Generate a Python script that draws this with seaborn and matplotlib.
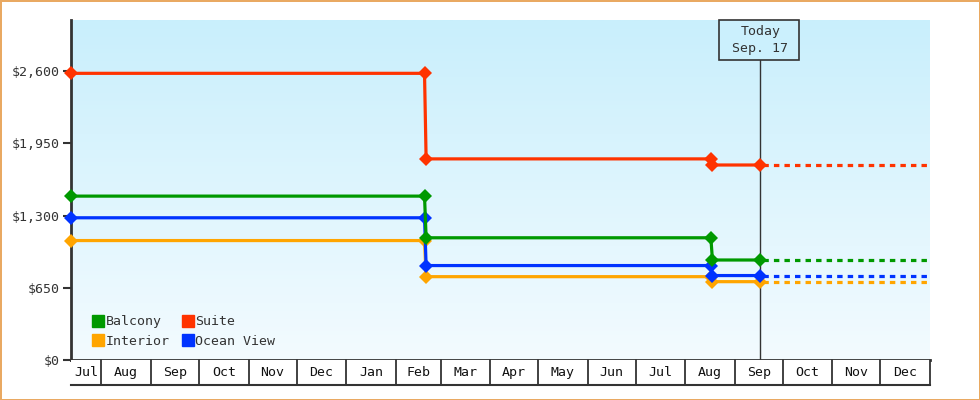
import numpy as np
import pandas as pd
import matplotlib.pyplot as plt
import matplotlib.dates as mdates
import matplotlib.transforms as mtransforms
from matplotlib.colors import LinearSegmentedColormap
from matplotlib.lines import Line2D
from matplotlib.patches import Rectangle
from matplotlib.ticker import FuncFormatter
import seaborn as sns

sns.set_theme(style='white')
plt.rcParams['font.family'] = ['DejaVu Sans Mono', 'DejaVu Sans']

# price history (date the fare was seen, fare in $)
price_dates = ['2024-07-13', '2025-02-19', '2025-02-20', '2025-08-17', '2025-08-18', '2025-09-17']
balcony = [1475, 1475, 1100, 1100, 900, 900]
suite = [2580, 2580, 1810, 1810, 1755, 1755]
interior = [1075, 1075, 750, 750, 705, 705]
ocean_view = [1280, 1280, 850, 850, 760, 760]
forecast_end = '2025-12-31'
today_label = 'Today\nSep. 17'

month_labels = ['Jul', 'Aug', 'Sep', 'Oct', 'Nov', 'Dec', 'Jan', 'Feb', 'Mar',
                'Apr', 'May', 'Jun', 'Jul', 'Aug', 'Sep', 'Oct', 'Nov', 'Dec']
y_ticks = [0, 650, 1300, 1950, 2600]

series = {'Balcony': (balcony, '#009900'),
          'Suite': (suite, '#ff3300'),
          'Interior': (interior, '#ffa500'),
          'Ocean View': (ocean_view, '#0033ff')}

dates = pd.to_datetime(price_dates)
today = dates[-1]
x_start = dates[0]
x_end = pd.Timestamp('2026-01-01')

fig = plt.figure(figsize=(9.8, 4), dpi=100)
fig.patch.set_facecolor('white')
fig.patch.set_edgecolor('#e9a962')
fig.patch.set_linewidth(2)

ax = fig.add_axes([71 / 980, 40 / 400, 859 / 980, 340 / 400])

# draw order: bottom to top
for name in ['Interior', 'Ocean View', 'Balcony', 'Suite']:
    vals, col = series[name]
    df = pd.DataFrame({'date': dates, 'price': vals})
    sns.lineplot(data=df, x='date', y='price', color=col, lw=2.3, marker='D',
                 markersize=7, markeredgewidth=0, estimator=None, sort=False,
                 ax=ax, zorder=5)
    ax.lines[-1].set_clip_on(False)
    fc = pd.DataFrame({'date': pd.to_datetime([price_dates[-1], forecast_end]),
                       'price': [vals[-1], vals[-1]]})
    sns.lineplot(data=fc, x='date', y='price', color=col, lw=2.3,
                 dashes=False, estimator=None, ax=ax, zorder=3)
    ax.lines[-1].set_linestyle((2.4, (1.7, 1.6)))

# gradient background
cmap = LinearSegmentedColormap.from_list('bg', ['#f3fbff', '#c9effc'])
grad = np.linspace(0, 1, 256).reshape(-1, 1)
ax.imshow(grad, extent=[0, 1, 0, 1], transform=ax.transAxes, cmap=cmap,
          origin='lower', aspect='auto', zorder=0)

ax.set_xlim(x_start, x_end)
ax.set_ylim(0, 3060)
ax.set_xlabel('')
ax.set_ylabel('')
ax.set_yticks(y_ticks)
ax.yaxis.set_major_formatter(FuncFormatter(lambda v, _: f'${v:,.0f}'))
ax.tick_params(axis='y', left=True, length=6, width=1.5, color='#333333',
               labelsize=9.5, labelcolor='#333333', pad=2)
ax.tick_params(axis='x', bottom=False, labelbottom=False)
for s in ['top', 'right']:
    ax.spines[s].set_visible(False)
for s in ['left', 'bottom']:
    ax.spines[s].set_color('#333333')
    ax.spines[s].set_linewidth(2)
    ax.spines[s].set_zorder(4)

# today marker
ax.axvline(today, ymin=0, ymax=0.882, color='#333333', lw=1, zorder=2)
ax.add_patch(Rectangle((0.7544, 0.882), 0.0931, 0.118, transform=ax.transAxes,
                       fc='#cbf0fd', ec='#333333', lw=1.2, clip_on=False, zorder=6))
trans = mtransforms.blended_transform_factory(ax.transData, ax.transAxes)
ax.text(mdates.date2num(today), 0.941, today_label, transform=trans, ha='center',
        va='center', fontsize=9.5, color='#333333', linespacing=1.4, zorder=7)

# legend
handles = [Line2D([], [], marker='s', color=series[n][1], ls='none', markersize=8)
           for n in ['Balcony', 'Interior', 'Suite', 'Ocean View']]
ax.legend(handles, ['Balcony', 'Interior', 'Suite', 'Ocean View'], ncol=2,
          loc='lower left', bbox_to_anchor=(0.0256, 0.036), frameon=False,
          fontsize=9.5, handlelength=0.8, handletextpad=0.15, columnspacing=1.0,
          labelspacing=0.5, borderpad=0, borderaxespad=0,
          labelcolor='#333333')

# month row under the plot
ax2 = fig.add_axes([71 / 980, 15 / 400, 859 / 980, 25 / 400], sharex=ax)
ax2.set_facecolor('white')
ax2.set_ylim(0, 1)
ax2.set_yticks([])
ax2.tick_params(axis='x', bottom=False, labelbottom=False)
for s in ['top', 'left', 'right']:
    ax2.spines[s].set_visible(False)
ax2.spines['bottom'].set_color('#333333')
ax2.spines['bottom'].set_linewidth(1.5)

month_starts = pd.date_range('2024-07-01', periods=len(month_labels) + 1, freq='MS')
for i, lab in enumerate(month_labels):
    a = max(month_starts[i], x_start)
    b = min(month_starts[i + 1], x_end)
    ax2.axvline(b, color='#333333', lw=1.3, clip_on=False)
    ax2.text(a + (b - a) / 2, 0.5, lab, ha='center', va='center', fontsize=9.5,
             color='#111111')
ax2.set_xlim(x_start, x_end)

fig.savefig('out.png', dpi=100, facecolor=fig.get_facecolor(),
            edgecolor=fig.get_edgecolor())
